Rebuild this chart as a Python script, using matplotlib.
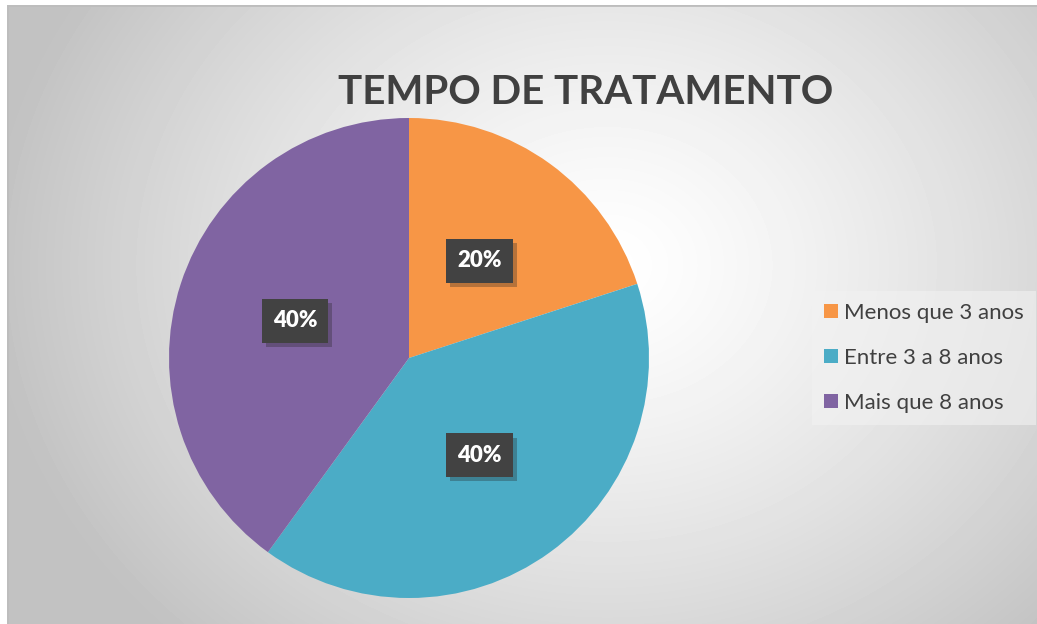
import numpy as np
import matplotlib
matplotlib.use("Agg")
import matplotlib.pyplot as plt
import matplotlib.patheffects as pe
from matplotlib.patches import Patch

# dados do grafico
categorias = ["Menos que 3 anos", "Entre 3 a 8 anos", "Mais que 8 anos"]
valores = [20, 40, 40]
cores = ["#F79646", "#4BACC6", "#8064A2"]
titulo = "TEMPO DE TRATAMENTO"

plt.rcParams['font.family'] = ['Lato', 'DejaVu Sans']

W, H = 1037, 624
fig = plt.figure(figsize=(W / 100, H / 100), dpi=100, facecolor="white")

# fundo com gradiente radial
bg = fig.add_axes([7 / W, 0, (W - 7) / W, (H - 5) / H])
bg.set_axis_off()
yy, xx = np.mgrid[0:619, 0:1030]
cx, cy = 600, 260
r = np.sqrt(((xx - cx) / 620.0) ** 2 + ((yy - cy) / 520.0) ** 2)
g = np.clip(1.0 - 0.24 * r ** 1.3, 0.76, 1.0)
bg.imshow(g, cmap="gray", vmin=0, vmax=1, aspect="auto", extent=(0, 1030, 619, 0))
bg.plot([0, 0, 1030], [619, 0, 0], color="#BDBDBD", lw=2)
bg.set_xlim(0, 1030)
bg.set_ylim(619, 0)

fig.text(586 / W, 1 - 93 / H, titulo, ha="center", va="center",
         fontsize=29, fontweight="bold", color="#404040")

# pizza
cxp, cyp, rad = 409, 358, 240
ax = fig.add_axes([(cxp - rad) / W, (H - cyp - rad) / H, 2 * rad / W, 2 * rad / H])
wedges, textos, autotextos = ax.pie(valores, colors=cores, startangle=90, counterclock=False,
                                    autopct="%1.0f%%", pctdistance=0.5,
                                    wedgeprops=dict(linewidth=0),
                                    textprops=dict(color="white", fontsize=16, fontweight="heavy"))
ax.set_xlim(-1, 1)
ax.set_ylim(-1, 1)
ax.set_aspect("equal")
ax.set_axis_off()

for t in autotextos:
    t.set_bbox(dict(boxstyle="square,pad=0.5", facecolor="#424242",
                    edgecolor="none", linewidth=0))
    t.get_bbox_patch().set_path_effects([
        pe.SimplePatchShadow(offset=(3, -3), shadow_rgbFace="#202020", alpha=0.3),
        pe.Normal()])

# legenda
handles = [Patch(facecolor=c, edgecolor="none") for c in cores]
leg = fig.legend(handles, categorias, loc="center left",
                 bbox_to_anchor=(812 / W, 1 - 358 / H), frameon=True,
                 fontsize=16, labelcolor="#404040", handlelength=0.6, handleheight=0.6,
                 handletextpad=0.3, labelspacing=1.12, borderpad=0.55, borderaxespad=0,
                 fancybox=False)
leg.get_frame().set_facecolor("#F2F2F2")
leg.get_frame().set_alpha(0.6)
leg.get_frame().set_edgecolor("none")

fig.savefig("out.png", dpi=100)
